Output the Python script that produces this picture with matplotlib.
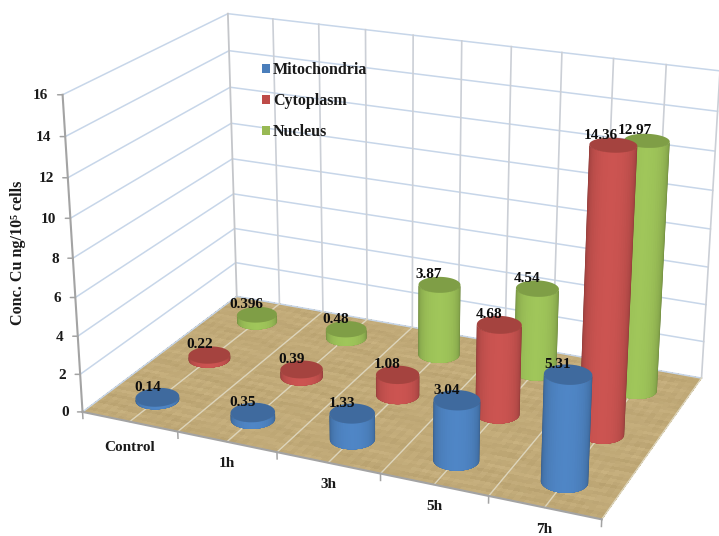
import numpy as np
import matplotlib
matplotlib.use('Agg')
import matplotlib.pyplot as plt
from matplotlib.patches import Patch
from mpl_toolkits.mplot3d import proj3d
from mpl_toolkits.mplot3d.art3d import Poly3DCollection

plt.rcParams['font.family'] = ['Liberation Serif', 'DejaVu Serif']
plt.rcParams['font.weight'] = 'bold'

categories = ['Control', '1h', '3h', '5h', '7h']
mitochondria = [0.14, 0.35, 1.33, 3.04, 5.31]
cytoplasm = [0.22, 0.39, 1.08, 4.68, 14.36]
nucleus = [0.396, 0.48, 3.87, 4.54, 12.97]
mito_labels = ['0.14', '0.35', '1.33', '3.04', '5.31']
cyto_labels = ['0.22', '0.39', '1.08', '4.68', '14.36']
nuc_labels = ['0.396', '0.48', '3.87', '4.54', '12.97']
series_names = ['Mitochondria', 'Cytoplasm', 'Nucleus']
z_ticks = [0, 2, 4, 6, 8, 10, 12, 14, 16]

side_colors = ['#4F86C6', '#CC5451', '#A0C65A']
top_colors = ['#3F6A9E', '#A5433F', '#7F9E46']
legend_colors = ['#4A7EBB', '#BE4B48', '#98B954']

ELEV, AZIM, FOCAL = 21.183, -66.23, 0.5285
BOX = (1.6471, 0.9894, 1)
RADIUS = 0.202   # in category widths

fig = plt.figure(figsize=(7.19, 5.36), dpi=100)
ax = fig.add_axes([0.05088, -0.12761, 0.97794, 1.31183], projection='3d')
ax.set_xlim(0, 5)
ax.set_ylim(0, 3)
ax.set_zlim(0, 16)
ax.view_init(ELEV, AZIM)
ax.set_proj_type('persp', focal_length=FOCAL)
ax.set_box_aspect(BOX)
ax.set_axis_off()
ax.computed_zorder = False
M = ax.get_proj()


def to2d(x, y, z):
    u, v, _ = proj3d.proj_transform(x, y, z, M)
    return u, v


# floor with a woven look
nx, ny = 190, 110
X, Y = np.meshgrid(np.linspace(0, 5, nx + 1), np.linspace(0, 3, ny + 1))
j, i = np.meshgrid(np.arange(nx), np.arange(ny))
weave = (0.5 * np.sin(i * 2.1 + 1.3 * np.sin(j * 0.31)) + 0.3 * np.sin(j * 1.7 + i * 0.13)
         + 0.3 * np.sin(i * 0.37 + j * 0.09) + 0.2 * np.sin(i * 5.3 + j * 3.1))
floor = np.zeros((ny, nx, 4))
for c, base in enumerate((0.755, 0.665, 0.47)):
    floor[:, :, c] = np.clip(base + 0.028 * weave, 0, 1)
floor[:, :, 3] = 1
ax.plot_surface(X, Y, np.zeros_like(X), facecolors=floor, rcount=ny, ccount=nx,
                shade=False, linewidth=0, antialiased=False, zorder=1)

# walls
for t in z_ticks:
    ax.plot([0, 0, 5], [0, 3, 3], [t, t, t], color='#C7D6E9', lw=1.1, zorder=2)
for k in np.arange(0.5, 5.01, 0.5):
    ax.plot([k, k], [3, 3], [0, 16], color='#CBCFD6', lw=1.2, zorder=2)
    ax.plot([k, k], [0, 3], [0, 0], color='#DDD5BC', lw=1.0, zorder=3)
ax.plot([0, 0], [3, 3], [0, 16], color='#C4C6CA', lw=1.3, zorder=2)
ax.plot([0, 0], [0, 0], [0, 16], color='#A3A3A3', lw=1.5, zorder=4)
ax.plot([0, 5], [0, 0], [0, 0], color='#A3A3A3', lw=1.5, zorder=4)
for k in range(6):
    ax.plot([k, k], [0, 0], [0, -0.35], color='#A3A3A3', lw=1.1, zorder=4)

# cylinders, from the back to the front
az = np.radians(AZIM)
el = np.radians(ELEV)
box_scale = 1.8294640721620434 * 25 / 24 / np.linalg.norm(BOX)
eye_x = box_scale * BOX[0] / 2 + 10 * FOCAL * np.cos(el) * np.cos(az)
eye_y = box_scale * BOX[1] / 2 + 10 * FOCAL * np.cos(el) * np.sin(az)
rx = RADIUS * 5 * 0.33 / BOX[0]
ry = RADIUS * 3 * 0.33 / BOX[1]
bands = np.radians(np.arange(90, 5, -6))


def cylinder(xc, yc, h, side, top, zo):
    phi = np.arctan2(eye_y - yc / 3 * BOX[1] * box_scale, eye_x - xc / 5 * BOX[0] * box_scale)
    rgb = np.array(matplotlib.colors.to_rgb(side))
    # nested strips around the side that faces the camera, lighter towards the middle
    for n, psi in enumerate(bands):
        t = np.linspace(phi - psi, phi + psi, 40)
        xs = xc + rx * np.cos(t)
        ys = yc + ry * np.sin(t)
        low = list(zip(xs, ys, np.zeros(40)))
        high = list(zip(xs[::-1], ys[::-1], np.full(40, h)))
        col = tuple(np.clip(rgb * (0.62 + 0.38 * np.cos(psi) ** 0.5), 0, 1))
        ax.add_collection3d(Poly3DCollection([low + high], facecolors=col, edgecolors='none', zorder=zo + n * 0.01))
    t = np.linspace(0, 2 * np.pi, 73)
    cap = list(zip(xc + rx * np.cos(t), yc + ry * np.sin(t), np.full(73, h)))
    ax.add_collection3d(Poly3DCollection([cap], facecolors=top, edgecolors='none', zorder=zo + 0.5))


series = [mitochondria, cytoplasm, nucleus]
labels = [mito_labels, cyto_labels, nuc_labels]
bars = []
for s in range(3):
    for k in range(5):
        depth = (k + 0.5) * BOX[0] / 5 * np.cos(az) + (s + 0.5) * BOX[1] / 3 * np.sin(az)
        bars.append((depth, k, s))
bars.sort()
for n, (depth, k, s) in enumerate(bars):
    cylinder(k + 0.5, s + 0.5, series[s][k], side_colors[s], top_colors[s], 10 + n)

# value labels
for s in range(3):
    for k in range(5):
        h = series[s][k]
        ax.annotate(labels[s][k], to2d(k + 0.5, s + 0.5, h), xytext=(-10 - 0.15 * h, 10), textcoords='offset pixels',
                    ha='center', va='center', fontsize=11, color='#0D0D0D', zorder=100, annotation_clip=False)

# axis labels
for t in z_ticks:
    ax.annotate(str(t), to2d(0, 0, t), xytext=(-14, -1), textcoords='offset pixels', ha='right', va='center',
                fontsize=11, color='#1A1A1A', zorder=100, annotation_clip=False)
    ax.annotate('', to2d(0, 0, t), xytext=(-5, 0), textcoords='offset pixels', annotation_clip=False, zorder=5,
                arrowprops=dict(arrowstyle='-', color='#A3A3A3', lw=1.1, shrinkA=0, shrinkB=0))
for k, name in enumerate(categories):
    ax.annotate(name, to2d(k + 0.5, 0, 0), xytext=(0, -26 if k == 0 else -22), textcoords='offset pixels',
                ha='center', va='center', fontsize=11, color='#1A1A1A', zorder=100, annotation_clip=False)

fig.text(18 / 719, 1 - 253 / 536, 'Conc. Cu ng/10\u2075 cells', rotation=90, ha='center', va='center', fontsize=11.6,
         color='#1A1A1A')

handles = [Patch(facecolor=c, edgecolor='none') for c in legend_colors]
fig.legend(handles, series_names, loc='upper left', bbox_to_anchor=(262 / 719, 1 - 62 / 536), frameon=False,
           borderpad=0, borderaxespad=0, fontsize=11.5, labelspacing=0.95, handlelength=0.5, handleheight=0.5,
           handletextpad=0.2, labelcolor='#1A1A1A')

fig.savefig('out.png', dpi=100)
